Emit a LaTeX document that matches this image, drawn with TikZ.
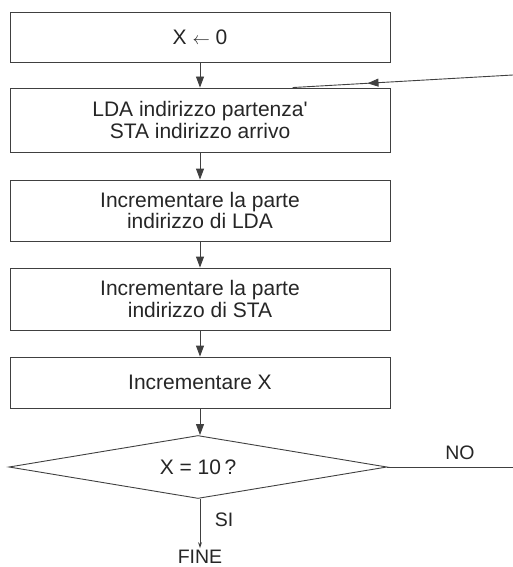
\documentclass[tikz,border=0pt]{standalone}
\usepackage{fontspec}
\setmainfont{Liberation Sans}
\usetikzlibrary{arrows.meta,shapes.geometric,calc,decorations.markings}
\begin{document}
\begin{tikzpicture}[x=1pt,y=-1pt,
  line/.style={draw=black!75,line width=0.9pt},
  box/.style={line,rectangle,minimum width=380pt,inner sep=0pt,align=center,
    font=\fontsize{21}{21.5}\selectfont,text=black!85},
  flow/.style={line,-{Triangle[length=11pt,width=8pt]}},
  lbl/.style={font=\fontsize{19.5}{20}\selectfont,text=black!85,inner sep=0pt}]
\useasboundingbox (0,0) rectangle (513,567);
\node[box,minimum height=50pt] (b1) at (200,37) {X {\fontsize{17}{17}\selectfont$\leftarrow$} 0};
\node[box,minimum height=64pt] (b2) at (200,120) {LDA indirizzo partenza\textquotesingle\\STA indirizzo arrivo};
\node[box,minimum height=61pt] (b3) at (200,210.5) {Incrementare la parte\\indirizzo di LDA};
\node[box,minimum height=62pt] (b4) at (200,299) {Incrementare la parte\\indirizzo di STA};
\node[box,minimum height=51pt] (b5) at (200,382.5) {Incrementare X};
\node[line,diamond,minimum width=378pt,minimum height=63pt,aspect=6,inner sep=0pt,
  font=\fontsize{21}{21}\selectfont,text=black!85] (d) at (198,467) {X = 10\,?};
\node[lbl] (fine) at (200,557) {FINE};
\node[lbl] (si) at (224,520) {SI};
\node[lbl] (no) at (460,453) {NO};
\coordinate (noR) at (513,467);
\coordinate (fbR) at (513,75);
\coordinate (fbE) at ($(b2.north west)+(283,0)$);
\draw[flow] (b1) -- (b2);
\draw[flow] (b2) -- (b3);
\draw[flow] (b3) -- (b4);
\draw[flow] (b4) -- (b5);
\draw[flow] (b5.south) -- (b5.south |- d.north);
\draw[line,-{Stealth[length=6pt,width=4pt]}] (b5.south |- d.south) -- ([yshift=2pt]fine.north -| b5.south);
\draw[line] (d.east) -- (noR);
\draw[line,postaction={decorate},decoration={markings,
  mark=at position 0.66 with {\arrow{Triangle[length=11pt,width=8pt]}}}] (fbR) -- (fbE);
\end{tikzpicture}
\end{document}
